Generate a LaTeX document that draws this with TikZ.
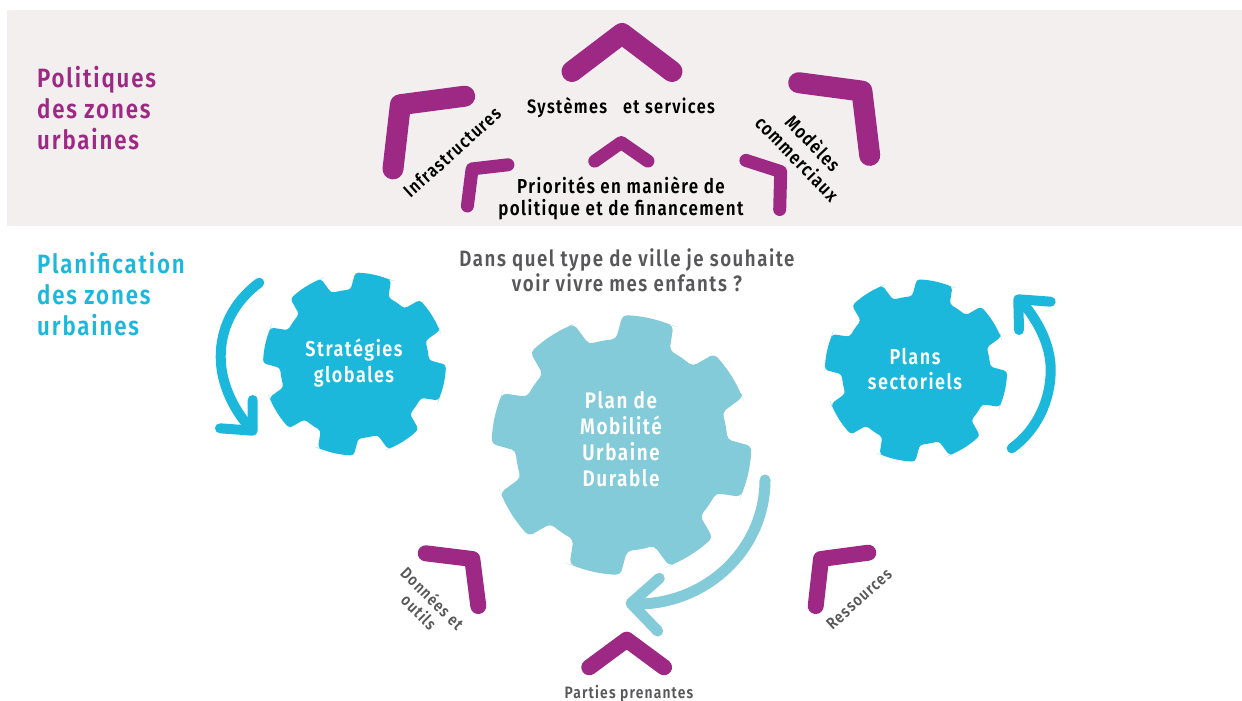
\documentclass[tikz,border=0pt]{standalone}
\usepackage{fontspec}
\setmainfont{Fira Sans}
\newfontfamily\dinfont[FakeStretch=0.84,LetterSpace=7,UprightFont={* SemiBold},BoldFont={* SemiBold}]{Fira Sans}
\definecolor{pbg}{HTML}{F2EFEE}
\definecolor{plum}{HTML}{9E2984}
\definecolor{skyc}{HTML}{1BB8DB}
\definecolor{paleb}{HTML}{84CBDA}
\definecolor{greyt}{HTML}{58585A}
\newcommand{\gearshape}[6]{%
  \fill[#5,rounded corners=#6]
    ({#1+#3*cos(78-45-11.5)},{#2-#3*sin(78-45-11.5)})
    \foreach \ga in {78,123,168,213,258,303,348,393}{
      -- ({#1+#3*cos(\ga-45-11.5+0.01)},{#2-#3*sin(\ga-45-11.5+0.01)})
      -- ({#1+#3*cos(\ga-45-6)},{#2-#3*sin(\ga-45-6)})
      -- ({#1+#3*cos(\ga-45)},{#2-#3*sin(\ga-45)})
      -- ({#1+#3*cos(\ga-45+6)},{#2-#3*sin(\ga-45+6)})
      -- ({#1+#3*cos(\ga-45+11.5)},{#2-#3*sin(\ga-45+11.5)})
      -- ({#1+#4*cos(\ga-45+15)},{#2-#4*sin(\ga-45+15)})
      -- ({#1+#4*cos(\ga-27)},{#2-#4*sin(\ga-27)})
      -- ({#1+#4*cos(\ga-22.5)},{#2-#4*sin(\ga-22.5)})
      -- ({#1+#4*cos(\ga-18)},{#2-#4*sin(\ga-18)})
      -- ({#1+#4*cos(\ga-15)},{#2-#4*sin(\ga-15)})
      -- ({#1+#3*cos(\ga-11.5)},{#2-#3*sin(\ga-11.5)})
    } -- cycle;%
}
\tikzset{
  chevbig/.style={draw=plum,line width=21pt,line cap=round,line join=round},
  chevmid/.style={draw=plum,line width=16pt,line cap=round,line join=round},
  chevsmall/.style={draw=plum,line width=13pt,line cap=round,line join=round},
  turnarrow/.style={line width=10pt,line cap=round,line join=round},
  headtext/.style={font=\dinfont\fontsize{26.5}{31}\selectfont,align=left,anchor=north west,inner sep=0pt},
  blacktext/.style={font=\dinfont\fontsize{19}{22}\selectfont,text=black,align=center,inner sep=0pt},
  greytext/.style={font=\dinfont\fontsize{22.2}{25}\selectfont,text=greyt,align=center,inner sep=0pt},
  smallgrey/.style={font=\dinfont\fontsize{16.5}{19}\selectfont,text=greyt,align=center,inner sep=0pt},
  geartext/.style={font=\dinfont\fontsize{21.5}{25.5}\selectfont,text=white,align=center,inner sep=0pt},
}
\begin{document}
\begin{tikzpicture}[x=1pt,y=-1pt]
\useasboundingbox (0,0) rectangle (1242,701);
\fill[pbg] (7,10) rectangle (1242,226);
% gears
\gearshape{354.5}{364}{91.5}{74.5}{skyc}{3.2pt}
\gearshape{916}{370.5}{91.2}{74.3}{skyc}{3.2pt}
\gearshape{621.5}{445}{130}{106}{paleb}{4.5pt}
% chevrons upper band
\draw[chevbig] (572,71.5) -- (622,33.5) -- (672,71.5);
\draw[chevbig] (464.7,96.2) -- (400.4,104.7) -- (393,168.9);
\draw[chevbig] (798.7,82.7) -- (861.9,91.1) -- (869.7,155.4);
\draw[chevsmall] (594.8,161.1) -- (621.2,142.5) -- (647.9,161.1);
\draw[chevsmall] (507.9,164.8) -- (472.1,168.9) -- (467.4,206);
\draw[chevsmall] (745.9,160.4) -- (780.7,171.6) -- (779.7,209.5);
% chevrons lower
\draw[chevmid] (425.7,553.3) -- (472.3,559) -- (478.3,606);
\draw[chevmid] (868.3,552.7) -- (821,559) -- (815.7,606);
\draw[chevmid] (589.3,667.3) -- (626.7,639.7) -- (664,667.3);
% arrows
\draw[turnarrow,skyc] (259.3,282.7) .. controls (232,303) and (220.7,330) .. (220.7,356.7) .. controls (220.7,385) and (235,412) .. (252,430);
\draw[turnarrow,skyc] (220,428.3) -- (252.7,430.7) -- (252.7,400);
\draw[turnarrow,skyc] (1011.7,448.3) .. controls (1037,430) and (1050.7,400) .. (1050.7,370) .. controls (1050.7,345) and (1038,320) .. (1020,300);
\draw[turnarrow,skyc] (1050.7,301.7) -- (1018.3,299.3) -- (1019,330);
\draw[turnarrow,paleb,line width=11pt] (765,480) .. controls (765,550) and (705,606) .. (633,604);
\draw[turnarrow,paleb,line width=11pt] (659.3,578.3) -- (631,603.3) -- (657.7,631);
% headings
\node[headtext,text=plum] (politiques) at (37,66) {Politiques\\des zones\\urbaines};
\node[headtext,text=skyc] (planif) at (37,252) {Planification\\des zones\\urbaines};
% band labels
\node[blacktext,font=\dinfont\fontsize{19.4}{22}\selectfont] (systemes) at (621,108) {Systèmes~~~et services};
\node[blacktext,font=\dinfont\fontsize{20.2}{22}\selectfont] (priorites) at (621,198) {Priorités en manière de\\politique et de financement};
\node[blacktext,font=\dinfont\fontsize{18.5}{22}\selectfont,rotate=42] (infra) at (452,152) {Infrastructures};
\node[blacktext,rotate=-46] (modeles) at (805.5,150.5) {Modèles\\commerciaux};
% question
\node[greytext] (question) at (627,270.5) {Dans quel type de ville je souhaite\\voir vivre mes enfants ?};
% gear labels
\node[geartext] (strategies) at (354,363) {Stratégies\\globales};
\node[geartext] (plans) at (915,369) {Plans\\sectoriels};
\node[geartext,font=\dinfont\fontsize{22.5}{26}\selectfont] (pmud) at (621,439) {Plan de\\Mobilité\\Urbaine\\Durable};
% lower labels
\node[smallgrey,rotate=-45] (donnees) at (426,605) {Données et\\outils};
\node[smallgrey,rotate=42] (ressources) at (859,599) {Ressources};
\node[smallgrey] (parties) at (629,694) {Parties prenantes};
\end{tikzpicture}
\end{document}
